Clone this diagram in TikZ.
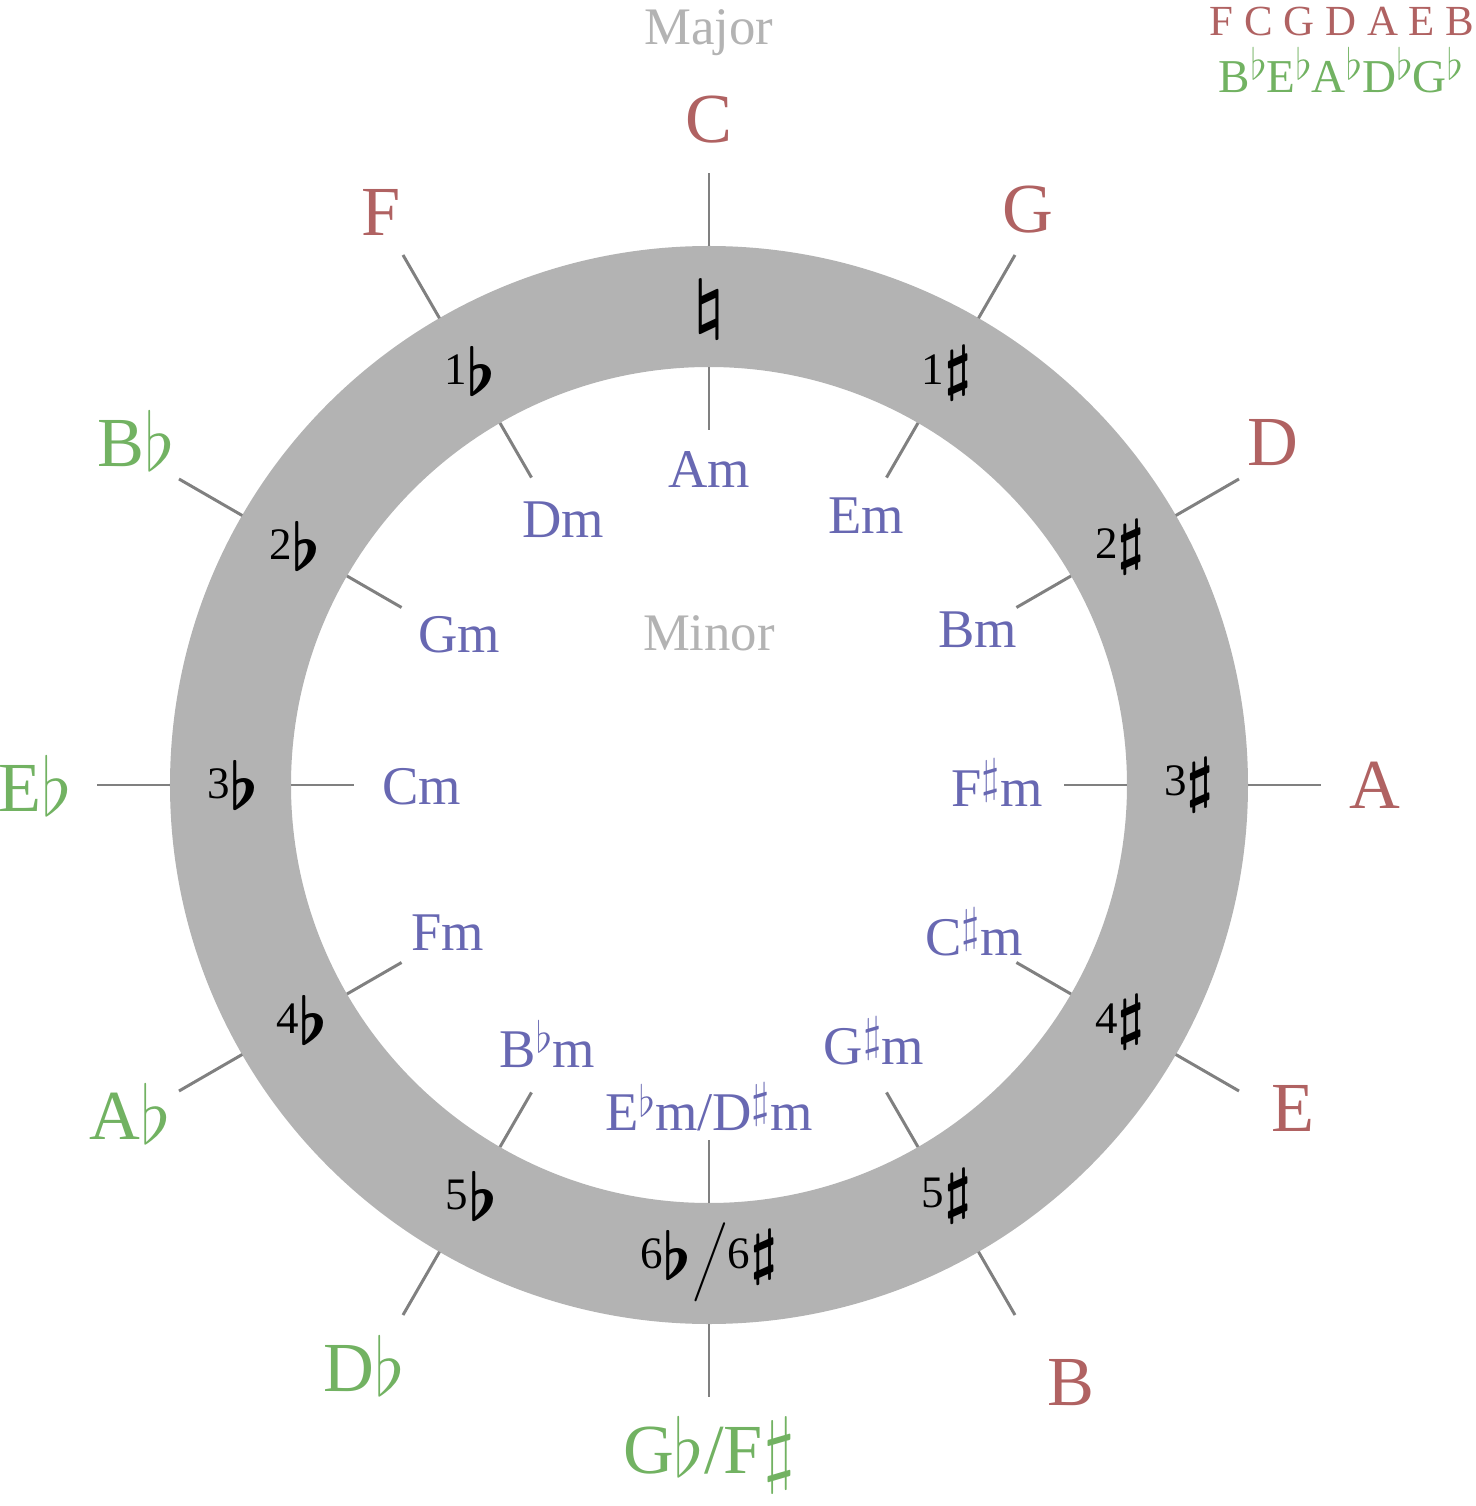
\documentclass[tikz,border=0pt]{standalone}
\usepackage{fontspec}
\setmainfont{Liberation Serif}
\usepackage{graphicx}
\definecolor{majred}{RGB}{176,98,98}
\definecolor{flatgreen}{RGB}{114,178,98}
\definecolor{minblue}{RGB}{104,104,178}
\definecolor{ringgray}{RGB}{179,179,179}
\definecolor{tickgray}{RGB}{128,128,128}
\newcommand{\Fl}{\raisebox{-0.25em}{\scalebox{1.55}{\boldmath$\flat$}}}
\newcommand{\Sh}{\raisebox{-0.1em}{\scalebox{1.45}{\boldmath$\sharp$}}}
\newcommand{\Na}{\raisebox{-0.1em}{\scalebox{1.55}{\boldmath$\natural$}}}
\newcommand{\mfl}{\raisebox{-0.05em}{\scalebox{1.1}{$\flat$}}}
\newcommand{\msh}{\raisebox{-0.05em}{\scalebox{1.15}{$\sharp$}}}
\newcommand{\supfl}{\raisebox{0.26em}{\scalebox{0.85}{$\flat$}}}
\newcommand{\supsh}{\raisebox{0.26em}{\scalebox{0.95}{$\sharp$}}}
\tikzset{
  major/.style={text=majred, font=\fontsize{20}{24}\selectfont, inner sep=0pt},
  flatmajor/.style={major, text=flatgreen},
  minor/.style={text=minblue, font=\fontsize{15.5}{18}\selectfont, inner sep=0pt},
  keysig/.style={font=\fontsize{12.8}{15}\selectfont, inner sep=0pt},
  heading/.style={text=ringgray, font=\fontsize{15}{18}\selectfont, inner sep=0pt},
  tickline/.style={tickgray, line width=0.85pt},
}
\begin{document}
\begin{tikzpicture}[x=0.01cm, y=0.01cm]
\useasboundingbox (-709,-721) rectangle (767,785);
% ring
\fill[ringgray, even odd rule] (0,0) circle (539) (0,0) circle (418);
\foreach \a in {0,30,...,330}{
  \draw[tickline] (\a:539) -- (\a:612);
  \draw[tickline] (\a:418) -- (\a:355);
}

% key signatures
\node[keysig] (k0) at (90:475) {\Na};
\node[keysig] (k1) at (60:475) {1\Sh};
\node[keysig] (k2) at (30:475) {2\Sh};
\node[keysig] (k3) at (0:480) {3\Sh};
\node[keysig] (k4) at (-30:475) {4\Sh};
\node[keysig] (k5) at (-60:475) {5\Sh};
\node[keysig] (k6) at (-90:477) {6\Fl\raisebox{-0.15em}{\scalebox{1.25}{$\Big/$}}6\Sh};
\node[keysig] (b5) at (-120:475) {5\Fl};
\node[keysig] (b4) at (-150:470) {4\Fl};
\node[keysig] (b3) at (180:476) {3\Fl};
\node[keysig] (b2) at (150:478) {2\Fl};
\node[keysig] (b1) at (120:478) {1\Fl};

% major keys
\node[major] (C) at (0,665) {C};
\node[major] (G) at (319,575) {G};
\node[major] (D) at (564,342) {D};
\node[major] (A) at (666,0) {A};
\node[major] (E) at (584,-323) {E};
\node[major] (B) at (362,-598) {B};
\node[flatmajor] (Gb) at (0,-670) {G\mfl/F\msh};
\node[flatmajor] (Db) at (-345,-580) {D\mfl};
\node[flatmajor] (Ab) at (-579,-328) {A\mfl};
\node[flatmajor] (Eb) at (-674,0) {E\mfl};
\node[flatmajor] (Bb) at (-573,345) {B\mfl};
\node[major] (F) at (-328,573) {F};

% minor keys
\node[minor] (Am) at (0,315) {Am};
\node[minor] (Em) at (157,269) {Em};
\node[minor] (Bm) at (269,155) {Bm};
\node[minor] (Fsm) at (288,2) {F\supsh m};
\node[minor] (Csm) at (265,-147) {C\supsh m};
\node[minor] (Gsm) at (165,-256) {G\supsh m};
\node[minor] (Ebm) at (0,-322) {E\supfl m/D\supsh m};
\node[minor] (Bbm) at (-162,-259) {B\supfl m};
\node[minor] (Fm) at (-261,-148) {Fm};
\node[minor] (Cm) at (-287,-2) {Cm};
\node[minor] (Gm) at (-250,150) {Gm};
\node[minor] (Dm) at (-146,265) {Dm};

\node[heading] (major) at (0,752) {Major};
\node[heading] (minor) at (0,152) {Minor};

% order of keys
\node[major, font=\fontsize{12.2}{15}\selectfont] (sharps) at (633,763) {F C G D A E B};
\node[flatmajor, font=\fontsize{13.4}{15}\selectfont] (flats) at (632,715) {B\supfl E\supfl A\supfl D\supfl G\supfl};
\end{tikzpicture}
\end{document}
